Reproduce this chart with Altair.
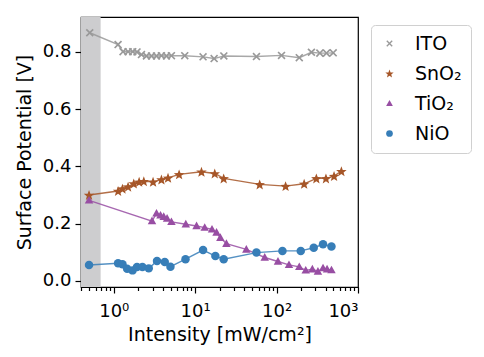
import altair as alt
import pandas as pd
import numpy as np

# ---------------- data ----------------
series_names = ["ITO", "SnO₂", "TiO₂", "NiO"]
series_colors = ["#999999", "#a65628", "#984ea3", "#377eb8"]

ito_x = [0.507, 1.13, 1.30, 1.50, 1.71, 1.93, 2.19, 2.52, 2.91, 3.35, 3.85, 4.44, 5.11,
         7.45, 12.5, 17.1, 22.5, 56.6, 115, 190, 268, 340, 410, 496]
ito_y = [0.866, 0.825, 0.800, 0.800, 0.800, 0.799, 0.790, 0.785, 0.785, 0.785, 0.786, 0.785, 0.786,
         0.786, 0.782, 0.776, 0.785, 0.783, 0.787, 0.779, 0.798, 0.795, 0.795, 0.796]

sno2_x = [0.497, 1.13, 1.28, 1.50, 1.76, 2.05, 2.34, 3.04, 3.85, 4.64, 6.35, 11.95, 17.4,
          22.4, 62.0, 129, 218, 308, 404, 508, 625]
sno2_y = [0.300, 0.314, 0.322, 0.329, 0.340, 0.346, 0.348, 0.346, 0.354, 0.360, 0.372, 0.381, 0.375,
          0.358, 0.337, 0.331, 0.339, 0.358, 0.358, 0.366, 0.383]

tio2_x = [0.497, 2.95, 3.35, 3.75, 4.11, 4.52, 5.11, 7.67, 10.4, 13.1, 16.1, 18.3, 20.4,
          24.2, 42.5, 71.5, 104, 142, 190, 228, 275, 322, 372, 417, 472]
tio2_y = [0.281, 0.209, 0.236, 0.229, 0.224, 0.218, 0.206, 0.198, 0.192, 0.186, 0.180, 0.169, 0.151,
          0.130, 0.110, 0.082, 0.068, 0.056, 0.049, 0.037, 0.041, 0.033, 0.045, 0.041, 0.038]

nio_x = [0.497, 1.13, 1.28, 1.46, 1.70, 1.93, 2.25, 2.69, 3.40, 4.23, 4.97, 7.61, 12.5,
         17.7, 22.4, 56.6, 118, 198, 286, 372, 472]
nio_y = [0.056, 0.062, 0.058, 0.043, 0.037, 0.049, 0.049, 0.044, 0.070, 0.066, 0.050, 0.076, 0.108,
         0.087, 0.076, 0.099, 0.105, 0.105, 0.116, 0.128, 0.120]

band_start = [0.396]
band_end = [0.69]

x_major = [1, 10, 100, 1000]
x_minor = [0.4, 0.5, 0.6, 0.7, 0.8, 0.9,
           2, 3, 4, 5, 6, 7, 8, 9,
           20, 30, 40, 50, 60, 70, 80, 90,
           200, 300, 400, 500, 600, 700, 800, 900]
y_ticks = [0.0, 0.2, 0.4, 0.6, 0.8]

# ---------------- build table ----------------
rows = []
for name, xs, ys in zip(series_names, [ito_x, sno2_x, tio2_x, nio_x],
                        [ito_y, sno2_y, tio2_y, nio_y]):
    for i, (xv, yv) in enumerate(zip(xs, ys)):
        rows.append({"series": name, "x": xv, "y": yv, "order": i})
df = pd.DataFrame(rows)
band_df = pd.DataFrame({"x": band_start, "x2": band_end})

# ---------------- marker shapes (unit paths) ----------------
def poly_path(pts, scale=1.0):
    return "M" + "L".join(f"{px*scale:.3f},{py*scale:.3f}" for px, py in pts) + "Z"

a = 0.17
plus = [(a, -1), (a, -a), (1, -a), (1, a), (a, a), (a, 1), (-a, 1), (-a, a),
        (-1, a), (-1, -a), (-a, -a), (-a, -1)]
s2 = np.sqrt(2)
rot = [((px - py) / s2, (px + py) / s2) for px, py in plus]
m = max(max(abs(px), abs(py)) for px, py in rot)
x_shape = poly_path([(px / m, py / m) for px, py in rot], 0.95)

star_pts = []
for k in range(10):
    ang = np.deg2rad(-90 + 36 * k)
    r = 1.0 if k % 2 == 0 else 0.42
    star_pts.append((r * np.cos(ang), r * np.sin(ang) + 0.1))
star_shape = poly_path(star_pts, 1.3)

tri_shape = poly_path([(0, -1.05), (1.0, 0.75), (-1.0, 0.75)], 1.0)
circle_shape = "circle"

shapes = [x_shape, star_shape, tri_shape, circle_shape]

xscale = alt.Scale(type="log", domain=[0.396, 1000], nice=False)
yscale = alt.Scale(domain=[-0.021, 0.921], nice=False, zero=False)

sup = "datum.value == 1 ? '10⁰' : datum.value == 10 ? '10¹' : datum.value == 100 ? '10²' : '10³'"

band = alt.Chart(band_df).mark_rect(color="#cdcdcf", clip=True).encode(
    x=alt.X("x:Q", scale=xscale,
            axis=alt.Axis(values=x_major, orient="bottom", tickSize=6, labelExpr=sup,
                          title="Intensity [mW/cm²]", labelFontSize=18, titleFontSize=19,
                          labelPadding=9, titlePadding=5)),
    x2="x2:Q",
)

minor = alt.Chart(band_df).mark_rect(opacity=0).encode(
    x=alt.X("x:Q", scale=xscale,
            axis=alt.Axis(values=x_minor, orient="bottom", tickSize=3.5, labels=False,
                          domain=False, title=None)),
    x2="x2:Q",
)

line_layers = []
for name, col in zip(series_names, series_colors):
    line_layers.append(
        alt.Chart(df[df["series"] == name]).mark_line(
            strokeWidth=1.4, opacity=0.85, color=col
        ).encode(
            x=alt.X("x:Q", scale=xscale, axis=None),
            y=alt.Y("y:Q", scale=yscale,
                    axis=alt.Axis(values=y_ticks, format=".1f", title="Surface Potential [V]",
                                  labelFontSize=18, titleFontSize=19, tickSize=6,
                                  labelPadding=4, titlePadding=8)),
            order="order:Q",
        )
    )

points = alt.Chart(df).mark_point(filled=True, opacity=1, size=72, strokeWidth=0).encode(
    x=alt.X("x:Q", scale=xscale, axis=None),
    y=alt.Y("y:Q", scale=yscale),
    color=alt.Color("series:N", scale=alt.Scale(domain=series_names, range=series_colors),
                    sort=series_names,
                    legend=alt.Legend(title=None, orient="none", legendX=290, legendY=8,
                                      labelFontSize=19, rowPadding=10, padding=9,
                                      labelOffset=16, strokeColor="#d0d0d0",
                                      fillColor="white", cornerRadius=4, symbolSize=45,
                                      symbolStrokeWidth=0, labelLimit=200)),
    shape=alt.Shape("series:N", scale=alt.Scale(domain=series_names, range=shapes),
                    sort=series_names),
)

chart = alt.layer(band, minor, *line_layers, points).resolve_axis(x="independent").properties(
    width=277, height=270,
    autosize=alt.AutoSizeParams(type="none"),
    padding={"left": 73, "top": 9, "right": 116, "bottom": 60},
).configure(font="DejaVu Sans").configure_view(
    stroke="black", strokeWidth=1.2
).configure_axis(
    grid=False, domainColor="black", tickColor="black", labelColor="black",
    titleColor="black", titleFontWeight="normal", domainWidth=1.2, tickWidth=1.2,
)

chart.save("out.html", embed_options={"renderer": "svg", "actions": False})
